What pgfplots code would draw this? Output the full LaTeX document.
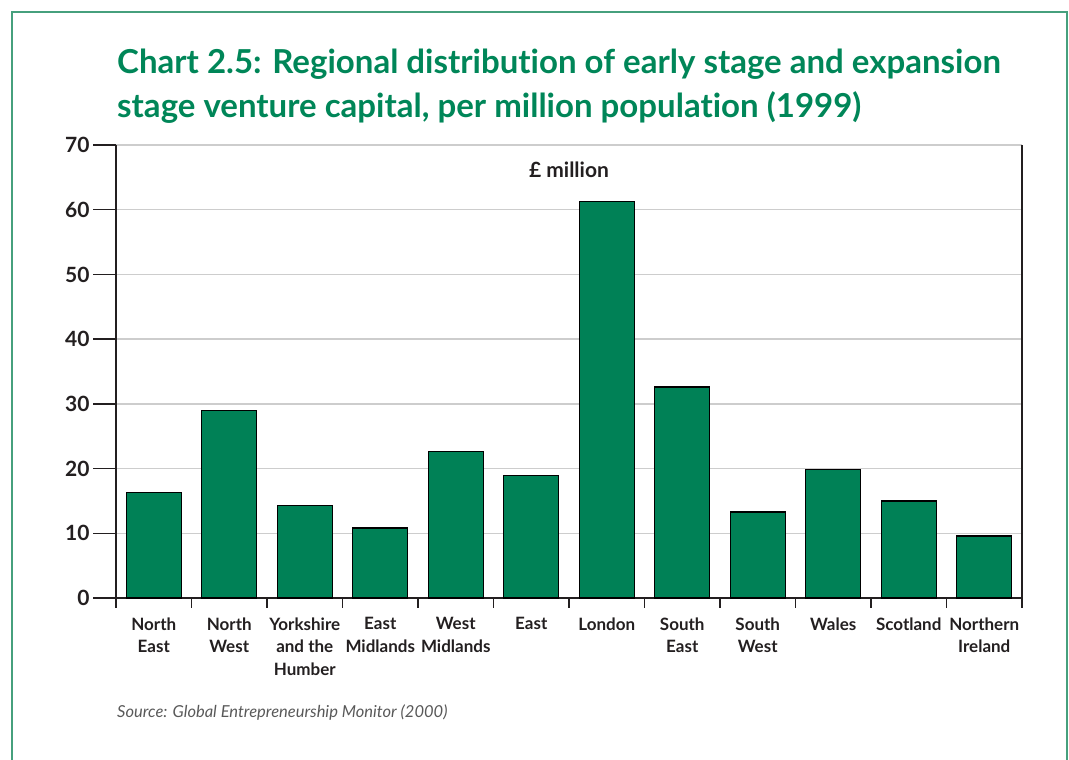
\documentclass[border=0pt]{standalone}
\usepackage{pgfplots}
\pgfplotsset{compat=1.18}
\usepackage{fontspec}
\setmainfont{Lato}[Ligatures=NoCommon]
\definecolor{barg}{RGB}{0,129,86}
\definecolor{titleg}{RGB}{0,134,88}
\definecolor{frameg}{RGB}{70,160,125}
\definecolor{txt}{RGB}{35,31,32}
\definecolor{gridc}{RGB}{205,205,205}
\begin{document}
\begin{tikzpicture}
\useasboundingbox (0pt,0pt) rectangle (1069pt,760pt);
\draw[frameg, line width=2pt] (12pt,-2pt) -- (12pt,748pt) -- (1067pt,748pt) -- (1067pt,-2pt);
\node[anchor=base west, text=titleg, font=\fontsize{33}{40}\selectfont\bfseries, inner sep=0pt] at (117pt,686pt) {Chart 2.5: Regional distribution of early stage and expansion};
\node[anchor=base west, text=titleg, font=\fontsize{33}{40}\selectfont\bfseries, inner sep=0pt] at (117pt,642pt) {stage venture capital, per million population (1999)};
\begin{axis}[
  at={(116pt,162pt)}, anchor=south west,
  scale only axis, width=906pt, height=453pt,
  xmin=-0.5, xmax=11.5, ymin=0, ymax=70,
  enlarge x limits=false,
  ybar, bar width=55pt,
  axis x line*=bottom, axis y line*=box,
  axis line style={draw=txt, line width=1.5pt},
  ytick pos=left,
  tick align=outside,
  ytick={0,10,...,70},
  yticklabels={0,10,20,30,40,50,60,70},
  major tick length=23pt,
  ytick style={draw=txt, line width=1.5pt},
  yticklabel style={font=\fontsize{21}{24}\selectfont\bfseries, text=txt},
  xtick={0,...,11},
  xticklabels={{North\\East},{North\\West},{Yorkshire\\and the\\Humber},{East\\Midlands},{West\\Midlands},{East},{London},{South\\East},{South\\West},{Wales},{Scotland},{Northern\\Ireland}},
  xtick style={draw=none},
  xticklabel style={font=\fontsize{17}{22.5}\selectfont\bfseries, text=txt, align=center, anchor=north, yshift=7pt},
  minor xtick={-0.5,0.5,...,11.5},
  minor tick length=10pt,
  minor x tick style={draw=txt, line width=1.5pt},
  ymajorgrids,
  major grid style={draw=gridc, line width=1.3pt},
  clip=false,
]
\addplot[fill=barg, draw=black, line width=1.4pt] coordinates {
(0,16.3) (1,29.0) (2,14.3) (3,10.8) (4,22.6) (5,18.9)
(6,61.3) (7,32.6) (8,13.3) (9,19.9) (10,15.0) (11,9.6)};
\node[font=\fontsize{21}{24}\selectfont\bfseries, text=txt] at (rel axis cs:0.5,0.945) {£ million};
\end{axis}
\node[anchor=base west, font=\fontsize{16.5}{20}\selectfont\itshape, text=black!65, inner sep=0pt] at (117pt,42pt) {Source: Global Entrepreneurship Monitor (2000)};
\end{tikzpicture}
\end{document}
